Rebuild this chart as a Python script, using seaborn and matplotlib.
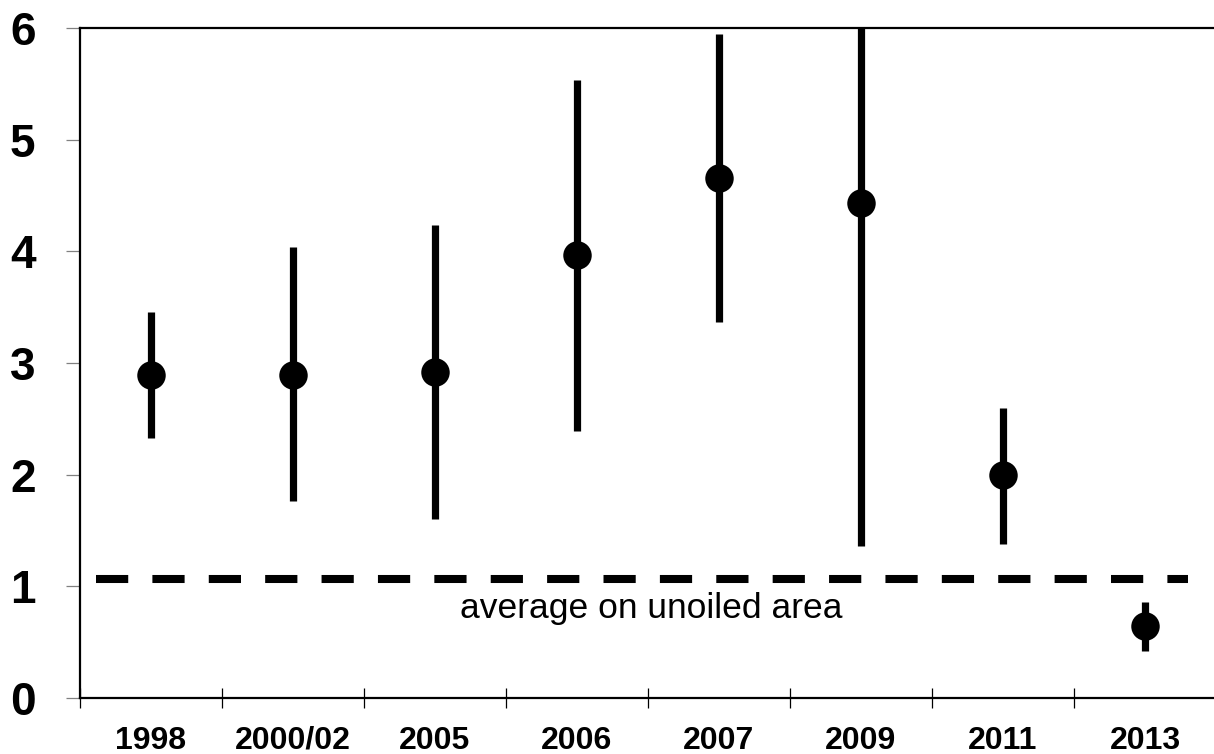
import numpy as np
import pandas as pd
import seaborn as sns
from matplotlib import pyplot as plt

# values
years = ['1998', '2000/02', '2005', '2006', '2007', '2009', '2011', '2013']
mean_val = [2.89, 2.89, 2.92, 3.97, 4.66, 4.43, 2.00, 0.645]
low_val = [2.33, 1.76, 1.60, 2.39, 3.37, 1.36, 1.38, 0.42]
high_val = [3.46, 4.04, 4.24, 5.53, 5.95, 6.10, 2.60, 0.86]
unoiled_avg = 1.066

df = pd.DataFrame({'year': years, 'mean': mean_val, 'low': low_val, 'high': high_val})

sns.set_style('white')
plt.rcParams['font.family'] = ['Liberation Sans', 'DejaVu Sans']
plt.rcParams['text.color'] = 'black'
plt.rcParams['xtick.color'] = 'black'
plt.rcParams['ytick.color'] = 'black'

fig = plt.figure(figsize=(12.14, 7.54), dpi=100)
ax = fig.add_axes([80 / 1214, 1 - 698 / 754, 1136 / 1214, 670 / 754])

# error bars first, points on top
ax.vlines(df['year'], df['low'], df['high'], color='black', linewidth=5.2, zorder=2)
sns.scatterplot(data=df, x='year', y='mean', ax=ax, color='black', s=420,
                edgecolor='black', linewidth=0, zorder=3, legend=False)

# dashed reference line
ax.hlines(unoiled_avg, -0.385, 7.3, color='black', linewidth=5.8,
          linestyle=(0, (4, 3)), zorder=1)
ax.text(3.52, 0.80, 'average on unoiled area', ha='center', va='center',
        fontsize=25.5, color='black')

ax.set_xlim(-0.5, 7.5)
ax.set_ylim(0, 6)
ax.set_yticks(range(0, 7))
ax.set_xticks(range(len(years)))
ax.set_xticklabels(years)
ax.set_xticks(np.arange(-0.5, 8, 1), minor=True)
ax.set_xlabel('')
ax.set_ylabel('')

ax.tick_params(axis='x', which='major', length=0, pad=20, labelsize=23, labelcolor='black')
ax.tick_params(axis='x', which='minor', direction='inout', length=14, width=0.9,
               color='black', bottom=True)
ax.tick_params(axis='y', which='major', direction='out', length=10, width=0.9, color='gray',
               pad=22, labelsize=33, left=True, labelcolor='black')
for lab in ax.get_xticklabels() + ax.get_yticklabels():
    lab.set_fontweight('bold')

for side in ['top', 'left', 'bottom']:
    ax.spines[side].set_visible(True)
    ax.spines[side].set_color('black')
    ax.spines[side].set_linewidth(1.6)
ax.spines['right'].set_visible(False)

fig.savefig('out.png', dpi=100)
